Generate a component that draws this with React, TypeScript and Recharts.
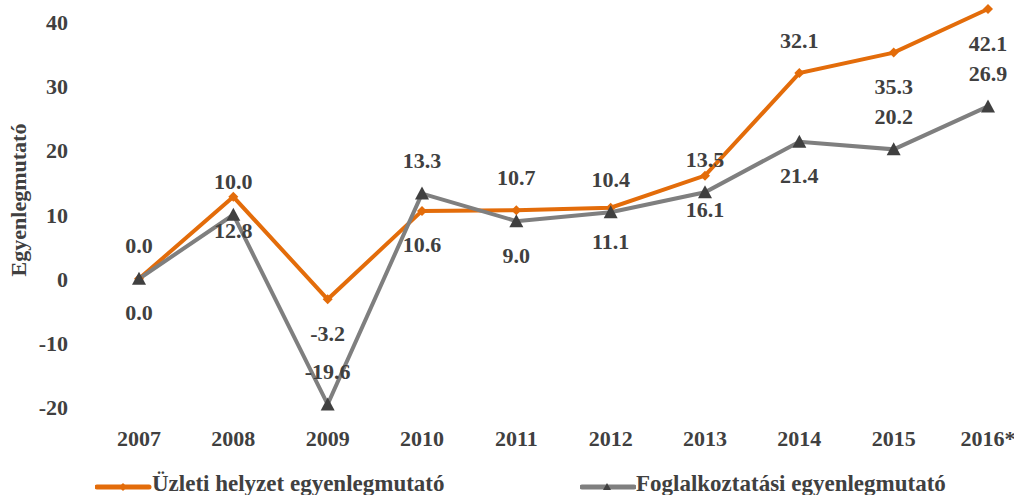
import { LineChart, Line, XAxis, YAxis, Legend, LabelList, Label } from 'recharts';

const years = ['2007', '2008', '2009', '2010', '2011', '2012', '2013', '2014', '2015', '2016*'];
const businessValues = [0.0, 12.8, -3.2, 10.6, 10.7, 11.1, 16.1, 32.1, 35.3, 42.1];
const employmentValues = [0.0, 10.0, -19.6, 13.3, 9.0, 10.4, 13.5, 21.4, 20.2, 26.9];
const yTicks = [-20, -10, 0, 10, 20, 30, 40];

const businessName = 'Üzleti helyzet egyenlegmutató';
const employmentName = 'Foglalkoztatási egyenlegmutató';

// label side for each point (as in the original figure)
const businessLabelSide = ['top', 'bottom', 'bottom', 'bottom', 'top', 'bottom', 'bottom', 'top', 'bottom', 'bottom'];
const employmentLabelSide = ['bottom', 'top', 'top', 'top', 'bottom', 'top', 'top', 'bottom', 'top', 'top'];

const ORANGE = '#E36C0A';
const GRAY = '#7F7F7F';
const DARK = '#404040';
const FONT = '"Liberation Serif", serif';

const data = years.map((year, i) => ({
  year,
  business: businessValues[i],
  employment: employmentValues[i],
}));

const makeLabel = (sides: string[]) => (props: any) => {
  const { x, y, value, index } = props;
  const dy = sides[index] === 'top' ? -33 : 34;
  return (
    <text
      x={x}
      y={y + dy}
      textAnchor="middle"
      dominantBaseline="central"
      fontFamily={FONT}
      fontWeight="bold"
      fontSize={22}
      fill={DARK}
    >
      {Number(value).toFixed(1)}
    </text>
  );
};

const Diamond = (props: any) => {
  const { cx, cy } = props;
  if (cx == null || cy == null) return null;
  return <path d={`M${cx},${cy - 5}L${cx + 5},${cy}L${cx},${cy + 5}L${cx - 5},${cy}Z`} fill={ORANGE} />;
};

const Triangle = (props: any) => {
  const { cx, cy } = props;
  if (cx == null || cy == null) return null;
  return <path d={`M${cx},${cy - 7}L${cx + 7},${cy + 6}L${cx - 7},${cy + 6}Z`} fill={DARK} />;
};

const LegendContent = () => (
  <div style={{ position: 'relative', height: 32, fontFamily: FONT, fontWeight: 'bold', fontSize: 23, color: DARK }}>
    <div style={{ position: 'absolute', left: 95, top: 8, display: 'flex', alignItems: 'center', whiteSpace: 'nowrap', lineHeight: '26px' }}>
      <svg width={57} height={14} style={{ marginTop: 5 }}>
        <line x1={2} y1={7} x2={54} y2={7} stroke={ORANGE} strokeWidth={5} strokeLinecap="round" />
        <path d="M28,3L32,7L28,11L24,7Z" fill={ORANGE} />
      </svg>
      <span>{businessName}</span>
    </div>
    <div style={{ position: 'absolute', left: 580, top: 8, display: 'flex', alignItems: 'center', whiteSpace: 'nowrap', lineHeight: '26px' }}>
      <svg width={56} height={14} style={{ marginTop: 5 }}>
        <line x1={2} y1={7} x2={54} y2={7} stroke={GRAY} strokeWidth={5} strokeLinecap="round" />
        <path d="M27,3L31,10L23,10Z" fill={DARK} />
      </svg>
      <span>{employmentName}</span>
    </div>
  </div>
);

export default function App() {
  const yMax = Math.max(...businessValues, ...employmentValues);
  return (
    <div style={{ position: 'absolute', left: 0, top: 0, width: 1014, height: 495, background: '#fff' }}>
      <LineChart width={1014} height={495} data={data} margin={{ top: 9, right: 26, bottom: 0, left: 0 }}>
        <XAxis
          dataKey="year"
          scale="point"
          padding={{ left: 0, right: 0 }}
          axisLine={false}
          tickLine={false}
          tickSize={0}
          tickMargin={23}
          height={56}
          interval={0}
          tick={{ fontFamily: FONT, fontWeight: 'bold', fontSize: 22, fill: DARK }}
        />
        <YAxis
          domain={[-20, yMax]}
          ticks={yTicks}
          axisLine={false}
          tickLine={false}
          tickSize={0}
          tickMargin={71}
          width={139}
          tick={{ fontFamily: FONT, fontWeight: 'bold', fontSize: 22, fill: DARK }}
        >
          <Label
            content={() => (
              <text
                x={18}
                y={200}
                transform="rotate(-90 18 200)"
                textAnchor="middle"
                dominantBaseline="central"
                fontFamily={FONT}
                fontWeight="bold"
                fontSize={22}
                fill={DARK}
              >
                Egyenlegmutató
              </text>
            )}
          />
        </YAxis>
        <Legend verticalAlign="bottom" height={32} content={<LegendContent />} />
        <Line
          type="linear"
          dataKey="business"
          name={businessName}
          stroke={ORANGE}
          strokeWidth={4}
          dot={<Diamond />}
          activeDot={false}
          isAnimationActive={false}
        >
          <LabelList dataKey="business" content={makeLabel(businessLabelSide)} />
        </Line>
        <Line
          type="linear"
          dataKey="employment"
          name={employmentName}
          stroke={GRAY}
          strokeWidth={4}
          dot={<Triangle />}
          activeDot={false}
          isAnimationActive={false}
        >
          <LabelList dataKey="employment" content={makeLabel(employmentLabelSide)} />
        </Line>
      </LineChart>
    </div>
  );
}
